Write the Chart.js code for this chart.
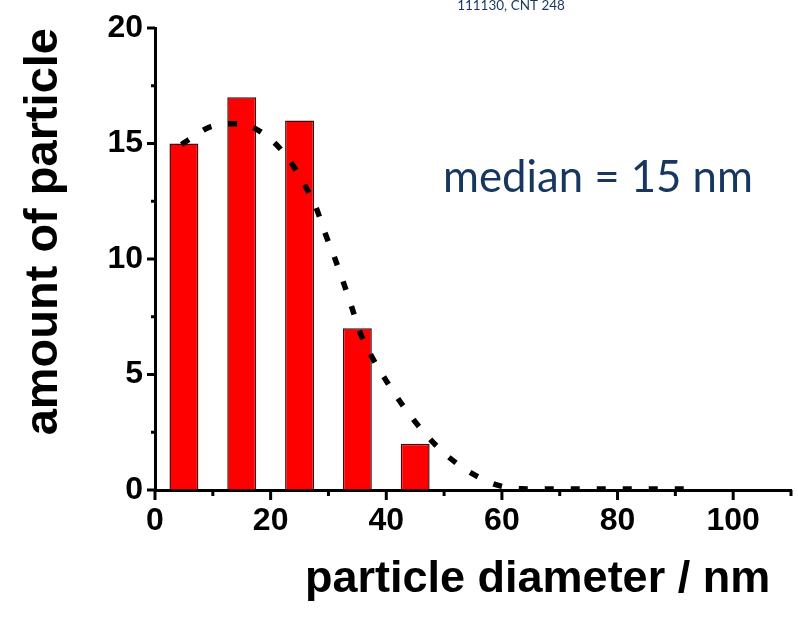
<!DOCTYPE html>
<html>
<head>
<meta charset="utf-8">
<script src="https://cdn.jsdelivr.net/npm/chart.js@4.4.0/dist/chart.umd.min.js"></script>
<style>
  html, body { margin: 0; padding: 0; background: #fff; }
  #wrap { width: 798px; height: 620px; }
</style>
</head>
<body>
<div id="wrap"><canvas id="chart" width="798" height="620"></canvas></div>
<script>
// histogram bins (nm) and counts
const binCenters = [5, 15, 25, 35, 45];
const counts = [15, 17, 16, 7, 2];

// dashed fit curve
const fitX = [4.6, 5.9, 10.0, 14.5, 18.9, 22.8, 25.6, 27.8, 29.3, 31.0, 32.6, 34.0, 35.4, 37.5, 40.1, 43.0, 46.4, 50.5, 54.8, 59.1, 63.4, 70, 80, 94];
const fitY = [14.95, 15.18, 15.76, 15.86, 15.40, 14.43, 13.32, 12.26, 11.2, 10.1, 8.98, 7.94, 6.86, 5.77, 4.69, 3.61, 2.53, 1.49, 0.72, 0.22, 0.05, 0.04, 0.04, 0.04];

const xMajorTicks = [0, 20, 40, 60, 80, 100];
const xMinorTicks = [10, 30, 50, 70, 90, 110];
const yMajorTicks = [0, 5, 10, 15, 20];
const yMinorTicks = [2.5, 7.5, 12.5, 17.5];

const yTitle = 'amount of particle';
const xTitle = 'particle diameter / nm';
const note = 'median = 15 nm';
const sampleLabel = '111130, CNT 248';

const navy = '#17375E';

// set a font so that text takes the given width
function fitFont(ctx, text, weight, family, width) {
  ctx.font = weight + ' 100px ' + family;
  const size = 100 * width / ctx.measureText(text).width;
  ctx.font = weight + ' ' + size.toFixed(1) + 'px ' + family;
}

const axisMarks = {
  id: 'axisMarks',
  afterDraw(chart) {
    const ctx = chart.ctx;
    const a = chart.chartArea;
    const xs = chart.scales.x, ys = chart.scales.y;
    ctx.save();
    ctx.strokeStyle = '#000';
    ctx.lineWidth = 3;
    const line = (x1, y1, x2, y2) => { ctx.beginPath(); ctx.moveTo(x1, y1); ctx.lineTo(x2, y2); ctx.stroke(); };
    xMajorTicks.forEach(v => { const p = xs.getPixelForValue(v); line(p, a.bottom, p, a.bottom + 10); });
    xMinorTicks.forEach(v => { const p = xs.getPixelForValue(v); line(p, a.bottom, p, a.bottom + 6); });
    yMajorTicks.forEach(v => { const p = ys.getPixelForValue(v); line(a.left - 8, p, a.left, p); });
    yMinorTicks.forEach(v => { const p = ys.getPixelForValue(v); line(a.left - 4, p, a.left, p); });

    // x title
    ctx.fillStyle = '#000';
    ctx.textBaseline = 'alphabetic';
    ctx.textAlign = 'left';
    fitFont(ctx, xTitle, 'bold', '"Liberation Sans", Arial, sans-serif', 465);
    ctx.fillText(xTitle, 305, 592);

    // annotation
    ctx.fillStyle = navy;
    fitFont(ctx, note, 'normal', 'Lato, sans-serif', 310);
    ctx.fillText(note, 443, 192);

    // clipped label at the top
    ctx.textAlign = 'center';
    fitFont(ctx, sampleLabel, 'normal', 'Lato, sans-serif', 108);
    ctx.fillText(sampleLabel, 511, 10);
    ctx.restore();
  }
};

const family = '"Liberation Sans", Arial, sans-serif';

new Chart(document.getElementById('chart'), {
  type: 'bar',
  data: {
    datasets: [
      {
        type: 'line',
        data: fitX.map((x, i) => ({ x: x, y: fitY[i] })),
        borderColor: '#000',
        borderWidth: 5.5,
        borderDash: [9, 17],
        pointRadius: 0,
        fill: false,
        cubicInterpolationMode: 'monotone',
        order: 1
      },
      {
        type: 'bar',
        data: binCenters.map((x, i) => ({ x: x, y: counts[i] })),
        backgroundColor: '#ff0000',
        borderColor: '#4a0808',
        borderWidth: 1.5,
        barPercentage: 0.5,
        categoryPercentage: 1,
        order: 2
      }
    ]
  },
  options: {
    responsive: false,
    devicePixelRatio: 1,
    animation: false,
    layout: { padding: { top: 28, right: 7, bottom: 0, left: 0 } },
    plugins: { legend: { display: false }, tooltip: { enabled: false } },
    scales: {
      x: {
        type: 'linear',
        min: 0,
        max: 110,
        offset: false,
        grid: { display: true, offset: false, drawOnChartArea: false, drawTicks: false },
        border: { display: true, color: '#000', width: 3 },
        ticks: { stepSize: 20, includeBounds: false, padding: 12, color: '#000', font: { family: family, weight: 'bold', size: 32 }, maxRotation: 0 },
        afterFit(s) { s.height = 130; }
      },
      y: {
        min: 0,
        max: 20,
        grid: { display: true, drawOnChartArea: false, drawTicks: false },
        border: { display: true, color: '#000', width: 3 },
        ticks: { stepSize: 5, padding: 12, color: '#000', font: { family: family, weight: 'bold', size: 32, lineHeight: 1 } },
        title: {
          display: true,
          text: yTitle,
          align: 'end',
          color: '#000',
          font: { family: family, weight: 'bold', size: 47 },
          padding: { top: 16, bottom: 0 }
        },
        afterFit(s) { s.width = 155; }
      }
    }
  },
  plugins: [axisMarks]
});
</script>
</body>
</html>
